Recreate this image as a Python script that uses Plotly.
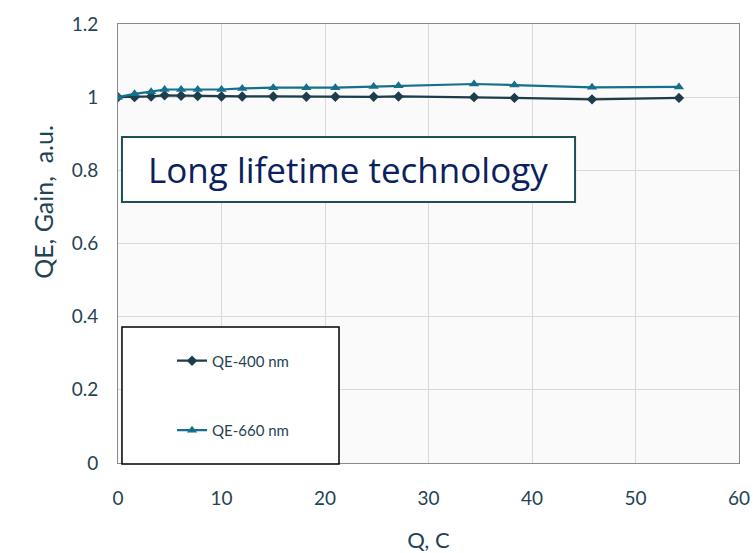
import plotly.graph_objects as go

charge_c = [0, 1.6, 3.2, 4.5, 6.1, 7.7, 10.0, 12.0, 15.0, 18.2, 21.0, 24.7, 27.1, 34.4, 38.3, 45.8, 54.2]
qe_400 = [1.0, 1.0, 1.002, 1.005, 1.004, 1.003, 1.002, 1.002, 1.002, 1.001, 1.001, 1.001, 1.002, 1.0, 0.998, 0.994, 0.998]
qe_660 = [1.0, 1.009, 1.015, 1.021, 1.021, 1.021, 1.021, 1.024, 1.026, 1.026, 1.026, 1.029, 1.031, 1.036, 1.033, 1.027, 1.028]

series_names = ["QE-400 nm", "QE-660 nm"]
x_ticks = [0, 10, 20, 30, 40, 50, 60]
y_ticks = [0, 0.2, 0.4, 0.6, 0.8, 1.0, 1.2]
y_tick_text = ["0", "0.2", "0.4", "0.6", "0.8", "1", "1.2"]
x_title = "Q, C"
y_title = "QE, Gain,\u00a0\u00a0a.u."
box_text = "Long lifetime technology"

c400 = "#1d3c4c"
c660 = "#15708c"
txt = "#1f4454"
font_fam = "Lato, 'Open Sans', sans-serif"

fig = go.Figure()
fig.add_trace(go.Scatter(x=charge_c, y=qe_400, name=series_names[0], mode="lines+markers",
                         line=dict(color=c400, width=2.2),
                         marker=dict(symbol="diamond", size=8, color=c400),
                         legendgroup="a"))
fig.add_trace(go.Scatter(x=charge_c, y=qe_660, name=series_names[1], mode="lines+markers",
                         line=dict(color=c660, width=2.2),
                         marker=dict(symbol="triangle-up", size=9, color=c660),
                         legendgroup="b"))

axis_common = dict(showline=True, linecolor="#8a8a8a", linewidth=1, mirror=True, automargin=False,
                   showgrid=True, gridcolor="#d9d9d9", gridwidth=1, zeroline=False,
                   ticks="", tickfont=dict(family=font_fam, size=19, color=txt))

fig.update_xaxes(range=[0, 60], tickvals=x_ticks, ticklabelstandoff=18,
                 title=dict(text=x_title, font=dict(family=font_fam, size=22, color=txt), standoff=24),
                 **axis_common)
fig.update_yaxes(range=[0, 1.2], tickvals=y_ticks, ticktext=y_tick_text, ticklabelstandoff=15,
                 **axis_common)

fig.update_layout(
    width=753, height=553,
    margin=dict(l=118, r=14, t=24, b=90),
    paper_bgcolor="white", plot_bgcolor="#fafafa",
    showlegend=True,
    legend=dict(x=0.087, y=0.27, xanchor="left", yanchor="top", bgcolor="rgba(0,0,0,0)",
                borderwidth=0, tracegroupgap=47, itemwidth=30,
                font=dict(family=font_fam, size=15, color=txt)),
    shapes=[
        dict(type="rect", xref="paper", yref="paper", x0=0.0064, x1=0.3559, y0=-0.002, y1=0.31,
             line=dict(color="black", width=1.5), fillcolor="white", layer="above"),
        dict(type="rect", xref="paper", yref="paper", x0=0.0064, x1=0.736, y0=0.5945, y1=0.7426,
             line=dict(color="#1f4f55", width=2), fillcolor="white", layer="above"),
    ],
    annotations=[
        dict(text=box_text, xref="paper", yref="paper", x=0.371, y=0.668,
             showarrow=False, font=dict(family="'Open Sans', 'Noto Sans', sans-serif", size=35, color="#0c1f5e"),
             xanchor="center", yanchor="middle"),
        dict(text=y_title, xref="paper", yref="paper", x=-0.121, y=0.5945, textangle=-90,
             showarrow=False, font=dict(family=font_fam, size=25, color=txt),
             xanchor="center", yanchor="middle"),
    ],
)

fig.write_html("out.html", config={"displayModeBar": False},
               post_script="document.body.style.margin='0';")
